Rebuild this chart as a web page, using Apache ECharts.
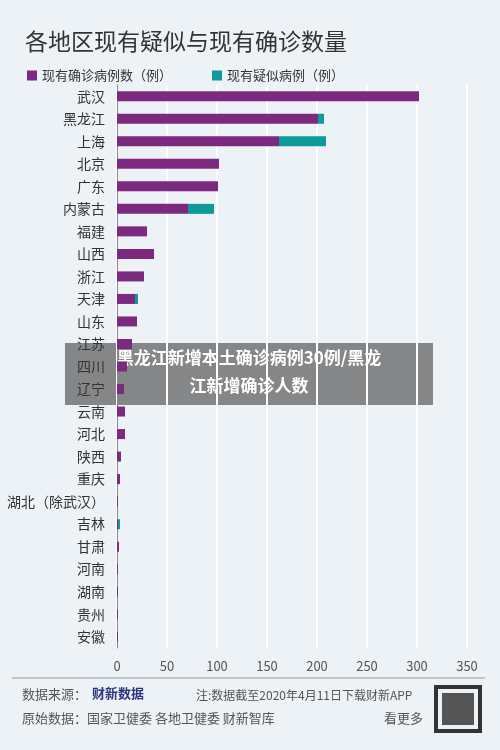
<!DOCTYPE html>
<html><head><meta charset="utf-8">
<script src="https://cdn.jsdelivr.net/npm/echarts@6/dist/echarts.min.js"></script>
<style>body{margin:0;background:#ecf2f6}#c{width:500px;height:750px}</style>
</head><body><div id="c"></div>
<script>
const categories=["武汉","黑龙江","上海","北京","广东","内蒙古","福建","山西","浙江","天津","山东","江苏","四川","辽宁","云南","河北","陕西","重庆","湖北（除武汉）","吉林","甘肃","河南","湖南","贵州","安徽"];
const confirmed=[302,201,162,102,101,71,30,37,27,18,20,15,10,7,8,8,4,3,1,1,2,1,1,1,1];
const suspected=[0,6,47,0,0,26,0,0,0,3,0,0,0,0,0,0,0,0,0,2,0,0,0,0,0];
const xTicks=[0,50,100,150,200,250,300,350];
const F='"Noto Sans CJK SC"';
const chart=echarts.init(document.getElementById('c'));
chart.setOption({
backgroundColor:'#ecf2f6',
textStyle:{fontFamily:F},
title:{text:'各地区现有疑似与现有确诊数量',left:20,top:25,textStyle:{fontSize:23,fontWeight:'normal',color:'#333',fontFamily:F}},
legend:{left:22,top:64,itemWidth:10,itemHeight:10,itemGap:40,icon:'rect',textStyle:{fontSize:13,color:'#333'},data:['现有确诊病例数（例）','现有疑似病例（例）']},
grid:{left:117,right:33,top:85,bottom:102,containLabel:false},
xAxis:{type:'value',min:0,max:350,interval:50,axisLine:{show:false},axisTick:{show:false},
 splitLine:{lineStyle:{color:'#fff',width:2}},axisLabel:{color:'#555',fontSize:13,margin:12}},
yAxis:{type:'category',inverse:true,data:categories,axisLine:{lineStyle:{color:'#888'}},axisTick:{lineStyle:{color:'#888'}},
 axisLabel:{color:'#333',fontSize:14,margin:12}},
series:[
{name:'现有确诊病例数（例）',type:'bar',stack:'a',barWidth:10,data:confirmed,itemStyle:{color:'#7b2a80'}},
{name:'现有疑似病例（例）',type:'bar',stack:'a',barWidth:10,data:suspected,itemStyle:{color:'#0e9a98'}}
],
graphic:[
{type:'line',shape:{x1:12,y1:678,x2:485,y2:678},style:{stroke:'#999',lineWidth:1}},
{type:'text',left:22,top:688,style:{text:'数据来源：',fontSize:13,fill:'#555',fontFamily:F}},
{type:'text',left:92,top:687,style:{text:'财新数据',fontSize:13,fontWeight:'bold',fill:'#2a3580',fontFamily:F}},
{type:'text',left:196,top:689,style:{text:'注:数据截至2020年4月11日下载财新APP',fontSize:12,fill:'#555',fontFamily:F}},
{type:'text',left:22,top:712,style:{text:'原始数据：国家卫健委 各地卫健委 财新智库',fontSize:13,fill:'#555',fontFamily:F}},
{type:'text',left:384,top:712,style:{text:'看更多',fontSize:13,fill:'#555',fontFamily:F}},
{type:'rect',shape:{x:434,y:685,width:48,height:48},style:{fill:'#333'}},
{type:'rect',shape:{x:438,y:689,width:40,height:40},style:{fill:'#ecf2f6'}},
{type:'rect',shape:{x:442,y:693,width:32,height:32},style:{fill:'#555'}},
{type:'rect',shape:{x:65,y:343,width:368,height:62},style:{fill:'rgba(110,110,110,0.82)'}},
{type:'text',x:249,y:358,style:{text:'黑龙江新增本土确诊病例30例/黑龙',fontSize:17,fontWeight:'bold',fill:'#fff',align:'center',verticalAlign:'middle',fontFamily:F}},
{type:'text',x:249,y:386,style:{text:'江新增确诊人数',fontSize:17,fontWeight:'bold',fill:'#fff',align:'center',verticalAlign:'middle',fontFamily:F}}
]
});
</script></body></html>
